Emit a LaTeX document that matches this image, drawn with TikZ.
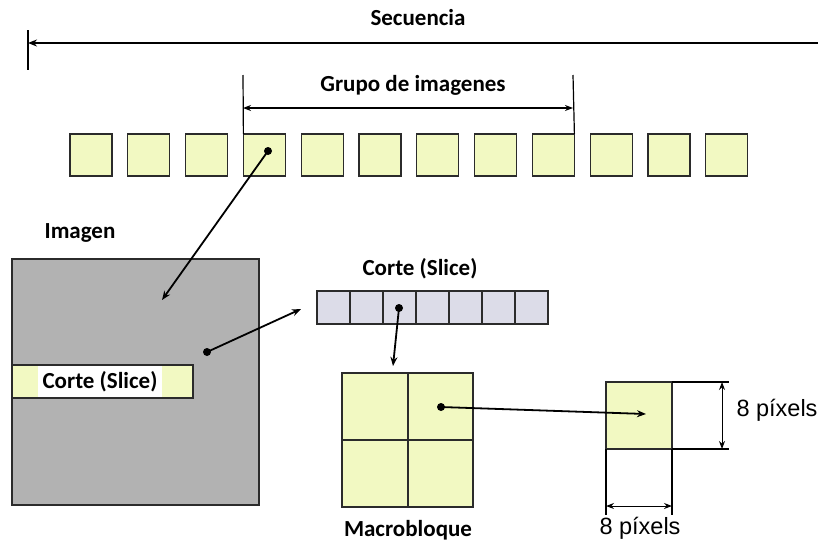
\documentclass[tikz,border=0pt]{standalone}
\usepackage{fontspec}
\setmainfont{Carlito}
\newfontfamily\dimfont{Liberation Sans}
\usetikzlibrary{arrows.meta}
\definecolor{frameyellow}{HTML}{F2F9C2}
\definecolor{imggray}{HTML}{B2B2B2}
\definecolor{slicelav}{HTML}{DCDCE8}
\definecolor{edge}{HTML}{2B2B2B}

\begin{document}
\begin{tikzpicture}[x=1pt,y=-1pt,
  box/.style={draw=edge,line width=1.3pt,inner sep=0,outer sep=0,anchor=north west},
  frame/.style={box,fill=frameyellow,minimum width=42pt,minimum height=42pt},
  lbl/.style={font=\bfseries\fontsize{23}{26}\selectfont,inner sep=0},
  dimlbl/.style={font=\dimfont\fontsize{23.5}{26}\selectfont,inner sep=0},
  ptr/.style={line width=1.8pt,-{Stealth[length=9pt,width=7pt]}},
  span/.style={line width=1.8pt,{Stealth[length=8pt,width=6pt]}-{Stealth[length=8pt,width=6pt]}},
  dim/.style={line width=1pt,{Stealth[length=8pt,width=6pt]}-{Stealth[length=8pt,width=6pt]}},
  tick/.style={line width=1.2pt},
  dot/.style={circle,fill=black,inner sep=0,minimum size=8pt}
]
\useasboundingbox (0,0) rectangle (818,544);

% sequence of pictures
\node[lbl] (seq) at (418,18) {Secuencia};
\coordinate (seqR) at (818,43);
\coordinate (seqL) at (28,43);
\draw[ptr,line width=2pt] (seqR) -- (seqL);
\draw[tick] (28,30) -- (28,70);

\foreach \i in {1,...,12}
  \node[frame] (f\i) at ({70+(\i-1)*57.8},134) {};

% group of pictures
\coordinate (gL) at (243,75);
\coordinate (gR) at (573,75);
\draw[tick] (gL) -- (f4.north west);
\draw[tick] (gR) -- (f9.north east);
\coordinate (gaL) at (243,108);
\coordinate (gaR) at (573,108);
\draw[span] (gaL) -- (gaR);
\node[lbl] (gop) at (413,85) {Grupo de imagenes};

% picture
\node[lbl] (imglbl) at (80,233) {Imagen};
\node[box,fill=imggray,minimum width=247pt,minimum height=246pt] (img) at (12,259) {};
\node[box,fill=frameyellow,minimum width=181pt,minimum height=33pt] (strip) at (12,365) {};
\node[lbl,fill=white,minimum width=124pt,minimum height=31pt] (striplbl) at (100,381.5) {Corte (Slice)};

\node[dot] (d1) at (268,151) {};
\coordinate (imgtgt) at (162,300);
\draw[ptr] (d1.center) -- (imgtgt);

% slice
\node[dot] (d2) at (207,352) {};
\coordinate (slicetgt) at (301,309);
\draw[ptr] (d2.center) -- (slicetgt);

\node[lbl] (slicelbl) at (420,269) {Corte (Slice)};
\foreach \i in {1,...,7}
  \node[box,fill=slicelav,minimum width=33pt,minimum height=33pt] (c\i) at ({317+(\i-1)*33},291) {};

\node[dot] (d3) at (399,308) {};
\coordinate (mbtgt) at (393,366);
\draw[ptr] (d3.center) -- (mbtgt);

% macroblock
\node[box,fill=frameyellow,minimum width=66pt,minimum height=67pt] (m1) at (342,373) {};
\node[box,fill=frameyellow,minimum width=65pt,minimum height=67pt] (m2) at (408,373) {};
\node[box,fill=frameyellow,minimum width=66pt,minimum height=67pt] (m3) at (342,440) {};
\node[box,fill=frameyellow,minimum width=65pt,minimum height=67pt] (m4) at (408,440) {};
\node[lbl] (mblbl) at (408,530) {Macrobloque};

% 8x8 block with dimensions
\node[box,fill=frameyellow,minimum width=66pt,minimum height=67pt] (blk) at (606,382) {};
\coordinate (eT) at (729,382);
\coordinate (eB) at (729,449);
\coordinate (eL) at (606,515);
\coordinate (eR) at (672,515);
\draw[tick] (blk.north east) -- (eT);
\draw[tick] (blk.south east) -- (eB);
\draw[tick] (blk.south west) -- (eL);
\draw[tick] (blk.south east) -- (eR);
\coordinate (vT) at (722,382);
\coordinate (vB) at (722,449);
\draw[dim] (vT) -- (vB);
\coordinate (hL) at (606,506);
\coordinate (hR) at (672,506);
\draw[dim] (hL) -- (hR);
\node[dimlbl] (wlbl) at (777,410) {8 píxels};
\node[dimlbl] (hlbl) at (640,528) {8 píxels};

\node[dot] (d4) at (441,407) {};
\coordinate (blktgt) at (646,414);
\draw[ptr] (d4.center) -- (blktgt);
\end{tikzpicture}
\end{document}
